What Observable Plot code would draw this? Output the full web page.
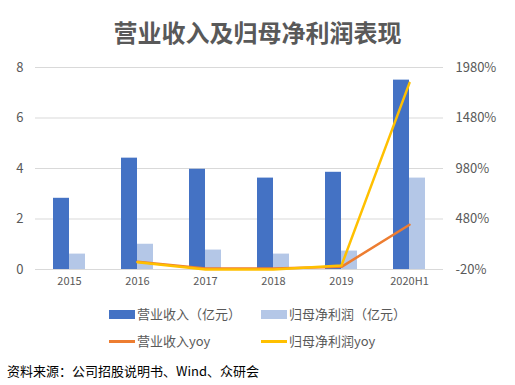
<!DOCTYPE html>
<html>
<head>
<meta charset="utf-8">
<script src="https://cdn.jsdelivr.net/npm/d3@7"></script>
<script src="https://cdn.jsdelivr.net/npm/@observablehq/plot@0.6"></script>
<style>
  body { margin: 0; background: #fff; font-family: "Noto Sans CJK SC", "Noto Sans", sans-serif; }
  #wrap { position: relative; width: 515px; height: 385px; overflow: hidden; }
  #title { position: absolute; left: 0; width: 515px; top: 16px; text-align: center; font-size: 24px; font-weight: bold; color: #595959; line-height: 32px; }
  #chart { position: absolute; left: 0; top: 0; }
  .lg { position: absolute; font-size: 13px; color: #595959; line-height: 16px; display: flex; align-items: center; }
  .sw { display: inline-block; width: 26px; margin-right: 2px; }
  #source { position: absolute; left: 7px; top: 362px; font-size: 13px; color: #000; line-height: 18px; }
</style>
</head>
<body>
<div id="wrap">
  <div id="chart"></div>
  <div id="title">营业收入及归母净利润表现</div>
  <div id="legend"></div>
  <div id="source">资料来源：公司招股说明书、Wind、众研会</div>
</div>
<script>
const years = ["2015", "2016", "2017", "2018", "2019", "2020H1"];
const revenue = [2.82, 4.41, 3.97, 3.62, 3.85, 7.5];
const profit = [0.61, 1.0, 0.77, 0.61, 0.73, 3.62];
const yoyYears = ["2016", "2017", "2018", "2019", "2020H1"];
const revenueYoy = [56, -10, -9, 6, 423];
const profitYoy = [52, -20, -20, 20, 1828];
const leftTicks = [0, 2, 4, 6, 8];
const rightTicks = [-20, 480, 980, 1480, 1980];

const seriesNames = ["营业收入（亿元）", "归母净利润（亿元）", "营业收入yoy", "归母净利润yoy"];
const colors = ["#4472C4", "#B4C7E7", "#ED7D31", "#FFC000"];

// map right-axis percentage onto the left scale domain
const rMin = rightTicks[0], rMax = rightTicks[rightTicks.length - 1];
const lMax = leftTicks[leftTicks.length - 1];
const toLeft = v => (v - rMin) / (rMax - rMin) * lMax;

const bars = years.map((y, i) => ({year: y, revenue: revenue[i], profit: profit[i]}));
const lines = yoyYears.map((y, i) => ({year: y, rev: toLeft(revenueYoy[i]), prof: toLeft(profitYoy[i])}));

const chart = Plot.plot({
  width: 515,
  height: 295,
  marginLeft: 35,
  marginRight: 72,
  marginTop: 67,
  marginBottom: 26,
  style: {fontFamily: '"Noto Sans CJK SC", "Noto Sans", sans-serif', background: "transparent"},
  x: {type: "band", domain: years, paddingInner: 0.53, paddingOuter: 0.265, label: null},
  y: {domain: [0, lMax], label: null},
  marks: [
    Plot.gridY(leftTicks.slice(1), {stroke: "#D9D9D9", strokeOpacity: 1}),
    Plot.ruleY([0], {stroke: "#D9D9D9"}),
    Plot.barY(bars, {x: "year", y: "revenue", fill: colors[0], insetRight: 16}),
    Plot.barY(bars, {x: "year", y: "profit", fill: colors[1], insetLeft: 16}),
    Plot.line(lines, {x: "year", y: "rev", stroke: colors[2], strokeWidth: 2.5}),
    Plot.line(lines, {x: "year", y: "prof", stroke: colors[3], strokeWidth: 2.5}),
    Plot.axisY(leftTicks, {anchor: "left", tickSize: 0, tickPadding: 12, fontSize: 13, fill: "#595959", label: null}),
    Plot.axisY(leftTicks, {anchor: "right", tickSize: 0, tickPadding: 12, fontSize: 13, fill: "#595959", label: null,
      tickFormat: d => rightTicks[leftTicks.indexOf(d)] + "%"}),
    Plot.axisX({tickSize: 0, tickPadding: 8, fontSize: 11, fill: "#595959", label: null})
  ]
});
document.getElementById("chart").appendChild(chart);

// legend
const legendPos = [
  {x: 109, y: 314, kind: "bar"},
  {x: 261, y: 314, kind: "bar"},
  {x: 109, y: 341, kind: "line"},
  {x: 261, y: 341, kind: "line"}
];
const lg = document.getElementById("legend");
seriesNames.forEach((name, i) => {
  const p = legendPos[i];
  const item = document.createElement("div");
  item.className = "lg";
  item.style.left = p.x + "px";
  item.style.top = (p.y - 8) + "px";
  const sw = document.createElement("span");
  sw.className = "sw";
  sw.style.background = colors[i];
  sw.style.height = p.kind === "bar" ? "9px" : "3px";
  item.appendChild(sw);
  item.appendChild(document.createTextNode(name));
  lg.appendChild(item);
});
</script>
</body>
</html>
